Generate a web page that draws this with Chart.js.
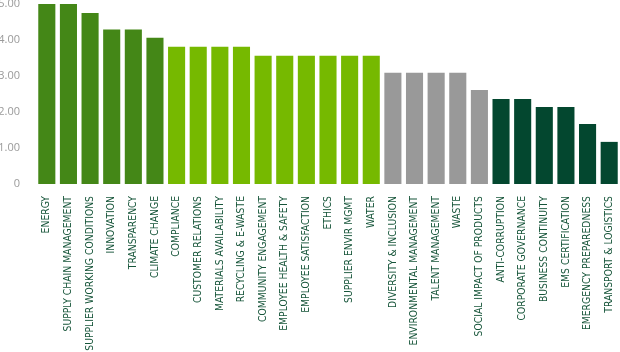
<!DOCTYPE html>
<html>
<head>
<meta charset="utf-8">
<script src="https://cdn.jsdelivr.net/npm/chart.js@4"></script>
<style>
  html, body { margin: 0; padding: 0; background: #fff; }
  #wrap { width: 620px; height: 352px; }
</style>
</head>
<body>
<div id="wrap"><canvas id="scores"></canvas></div>
<script>
const categories = [
    'ENERGY', 'SUPPLY CHAIN MANAGEMENT', 'SUPPLIER WORKING CONDITIONS', 'INNOVATION',
    'TRANSPARENCY', 'CLIMATE CHANGE', 'COMPLIANCE', 'CUSTOMER RELATIONS',
    'MATERIALS AVAILABILITY', 'RECYCLING & E-WASTE', 'COMMUNITY ENGAGEMENT',
    'EMPLOYEE HEALTH & SAFETY', 'EMPLOYEE SATISFACTION', 'ETHICS', 'SUPPLIER ENVIR MGMT',
    'WATER', 'DIVERSITY & INCLUSION', 'ENVIRONMENTAL MANAGEMENT', 'TALENT MANAGEMENT',
    'WASTE', 'SOCIAL IMPACT OF PRODUCTS', 'ANTI-CORRUPTION', 'CORPORATE GOVERNANCE',
    'BUSINESS CONTINUITY', 'EMS CERTIFICATION', 'EMERGENCY PREPAREDNESS', 'TRANSPORT & LOGISTICS'
];
const scores = [
    5.00, 5.00, 4.75, 4.29, 4.29, 4.06,
    3.81, 3.81, 3.81, 3.81, 3.56, 3.56, 3.56, 3.56, 3.56, 3.56,
    3.09, 3.09, 3.09, 3.09, 2.61,
    2.36, 2.36, 2.14, 2.14, 1.67, 1.17
];
// priority group for each bar (0 = highest)
const groups = [
    0, 0, 0, 0, 0, 0,
    1, 1, 1, 1, 1, 1, 1, 1, 1, 1,
    2, 2, 2, 2, 2,
    3, 3, 3, 3, 3, 3
];
const groupColors = ['#448717', '#76b900', '#999999', '#03472f'];
const yTicks = [0, 1, 2, 3, 4, 5];

const ctx = document.getElementById('scores').getContext('2d');
const chart = new Chart(ctx, {
    type: 'bar',
    data: {
        labels: categories,
        datasets: [{
            data: scores,
            backgroundColor: groups.map(g => groupColors[g]),
            barPercentage: 0.79,
            categoryPercentage: 1
        }]
    },
    options: {
        responsive: true,
        maintainAspectRatio: false,
        animation: false,
        layout: { padding: 0 },
        plugins: {
            legend: { display: false },
            tooltip: { enabled: false }
        },
        scales: {
            x: {
                afterFit: axis => {
                    axis.height = 168;
                    axis.paddingLeft = 0;
                    axis.paddingRight = 0;
                },
                grid: { display: false },
                border: { display: false },
                ticks: {
                    autoSkip: false,
                    minRotation: 90,
                    maxRotation: 90,
                    padding: 4,
                    color: '#17553a',
                    font: { family: 'DejaVu Sans Condensed', size: 10.3 }
                }
            },
            y: {
                min: 0,
                max: 5,
                afterBuildTicks: axis => { axis.ticks = yTicks.map(v => ({ value: v })); },
                afterFit: axis => {
                    axis.width = 36;
                    axis.paddingTop = 4;
                    axis.paddingBottom = 0;
                },
                grid: { display: false },
                border: { display: false },
                ticks: {
                    padding: 8,
                    color: '#9a9a9a',
                    font: { family: 'Open Sans', size: 11 },
                    callback: v => v === 0 ? '0' : v.toFixed(2)
                }
            }
        }
    }
});
</script>
</body>
</html>
